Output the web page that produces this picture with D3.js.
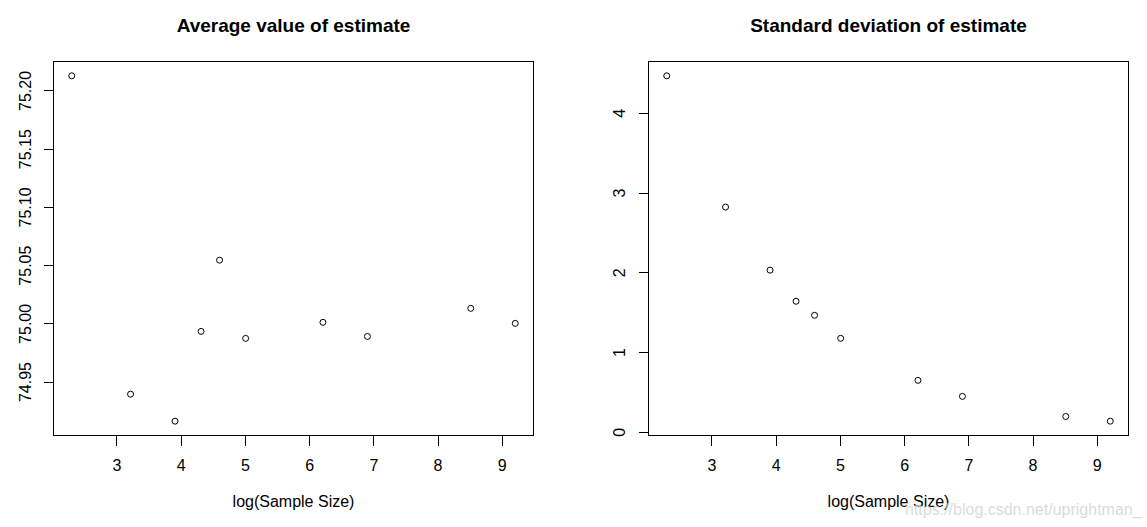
<!DOCTYPE html>
<html>
<head>
<meta charset="utf-8">
<script src="https://cdn.jsdelivr.net/npm/d3@7"></script>
<style>
  html, body { margin: 0; padding: 0; background: #ffffff; }
  svg { display: block; font-family: "Liberation Sans", Arial, sans-serif; }
</style>
</head>
<body>
<svg id="chart" width="1147" height="527"></svg>
<script>
// ---- data ----
const logSampleSize = [2.303, 3.219, 3.912, 4.317, 4.605, 5.011, 6.215, 6.908, 8.517, 9.210];
const averageEstimate = [75.2126, 74.9392, 74.9160, 74.9931, 75.0543, 74.9871, 75.0009, 74.9888, 75.0129, 75.0000];
const sdEstimate = [4.465, 2.819, 2.028, 1.638, 1.462, 1.173, 0.646, 0.445, 0.193, 0.134];
const xTicks = [3, 4, 5, 6, 7, 8, 9];
const avgTicks = [74.95, 75.00, 75.05, 75.10, 75.15, 75.20];
const sdTicks = [0, 1, 2, 3, 4];
const titles = ["Average value of estimate", "Standard deviation of estimate"];
const xLabel = "log(Sample Size)";

const svg = d3.select("#chart");

function rExtent(vals) {
  const [lo, hi] = d3.extent(vals);
  const pad = (hi - lo) * 0.04;
  return [lo - pad, hi + pad];
}

function panel(opts) {
  const { left, right, top, bottom, yVals, yTicks, yFmt, title, yLabelOffset } = opts;
  const x = d3.scaleLinear().domain(rExtent(logSampleSize)).range([left, right]);
  const y = d3.scaleLinear().domain(rExtent(yVals)).range([bottom, top]);
  const g = svg.append("g");

  // box
  g.append("rect")
    .attr("x", left - 0.5).attr("y", top - 0.5)
    .attr("width", right - left + 1).attr("height", bottom - top + 1)
    .attr("fill", "none").attr("stroke", "#000").attr("stroke-width", 1)
    .attr("shape-rendering", "crispEdges");

  // x axis
  const xa = g.append("g").attr("transform", `translate(0,${bottom + 0.5})`)
    .call(d3.axisBottom(x).tickValues(xTicks).tickSize(10).tickFormat(d3.format("d")));
  xa.select(".domain").remove();
  xa.selectAll("line").attr("stroke", "#000").attr("shape-rendering", "crispEdges");
  xa.selectAll("text").attr("dy", null).attr("y", 35)
    .attr("font-size", 16).attr("fill", "#000")
    .attr("font-family", "Liberation Sans, Arial, sans-serif");

  // y axis
  const ya = g.append("g").attr("transform", `translate(${left - 0.5},0)`)
    .call(d3.axisLeft(y).tickValues(yTicks).tickSize(10).tickFormat(yFmt));
  ya.select(".domain").remove();
  ya.selectAll("line").attr("stroke", "#000").attr("shape-rendering", "crispEdges");
  ya.selectAll("text")
    .attr("x", 0).attr("dy", null).attr("text-anchor", "middle")
    .attr("transform", `translate(${-yLabelOffset},0) rotate(-90)`)
    .attr("font-size", 16).attr("fill", "#000")
    .attr("font-family", "Liberation Sans, Arial, sans-serif");

  // points
  g.selectAll("circle.pt").data(logSampleSize.map((v, i) => [v, yVals[i]]))
    .join("circle").attr("class", "pt")
    .attr("cx", d => x(d[0])).attr("cy", d => y(d[1])).attr("r", 3)
    .attr("fill", "none").attr("stroke", "#000").attr("stroke-width", 1);

  // title
  g.append("text").attr("x", (left + right) / 2).attr("y", 32)
    .attr("text-anchor", "middle").attr("font-size", 19).attr("font-weight", "bold")
    .attr("fill", "#000").text(title);

  // x label
  g.append("text").attr("x", (left + right) / 2).attr("y", 507)
    .attr("text-anchor", "middle").attr("font-size", 16)
    .attr("fill", "#000").text(xLabel);
}

panel({ left: 54, right: 533, top: 62, bottom: 435, yVals: averageEstimate,
        yTicks: avgTicks, yFmt: d3.format(".2f"), title: titles[0], yLabelOffset: 23 });
panel({ left: 649, right: 1128, top: 62, bottom: 435, yVals: sdEstimate,
        yTicks: sdTicks, yFmt: d3.format("d"), title: titles[1], yLabelOffset: 24 });

// watermark
svg.append("text").attr("x", 905).attr("y", 515).attr("font-size", 16)
  .attr("fill", "#d4d4d4").attr("fill-opacity", 0.85)
  .text("https://blog.csdn.net/uprightman_");
</script>
</body>
</html>
